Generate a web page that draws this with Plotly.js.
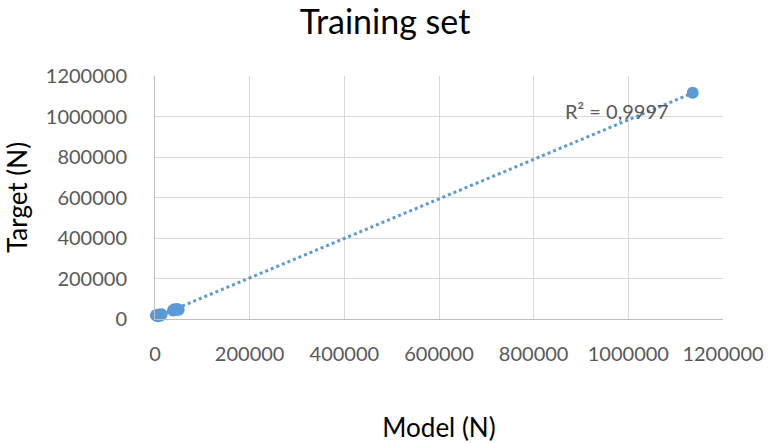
<!DOCTYPE html>
<html><head><meta charset="utf-8">
<script src="https://cdn.plot.ly/plotly-3.0.1.min.js"></script>
<style>html,body{margin:0;padding:0;background:#fff}#chart{width:770px;height:443px}</style>
</head><body><div id="chart"></div>
<script>
const modelN  = [-1000, 2000, 5000, 8000, 11000, 14000, 38000, 41000, 44000, 47000, 50000, 1136000];
const targetN = [12000, 18000, 14000, 22000, 16000, 24000, 42000, 48000, 44000, 50000, 46000, 1117000];
const xTicks = [0, 200000, 400000, 600000, 800000, 1000000, 1200000];
const yTicks = [0, 200000, 400000, 600000, 800000, 1000000, 1200000];
const r2Label = "R² = 0,9997";
const titleText = "Training set";
const xTitle = "Model (N)";
const yTitle = "Target (N)";

// least-squares linear trendline computed from the data
const n = modelN.length;
const mx = modelN.reduce((a,b)=>a+b,0)/n, my = targetN.reduce((a,b)=>a+b,0)/n;
let sxy=0, sxx=0;
for (let i=0;i<n;i++){ sxy+=(modelN[i]-mx)*(targetN[i]-my); sxx+=(modelN[i]-mx)**2; }
const slope = sxy/sxx, intercept = my - slope*mx;
const xmin = Math.min(...modelN), xmax = Math.max(...modelN);
const trendX = [xmin, xmax];
const trendY = trendX.map(v => intercept + slope*v);

const blue = '#5B9BD5';
const font = 'Lato, Carlito, Calibri, "Open Sans", sans-serif';
const data = [
  {x: trendX, y: trendY, mode: 'lines', line: {color: blue, width: 3, dash: 'dot'}, hoverinfo: 'skip', showlegend: false, cliponaxis: false},
  {x: modelN, y: targetN, mode: 'markers', marker: {color: blue, size: 12}, showlegend: false, cliponaxis: false}
];
const layout = {
  width: 770, height: 443,
  margin: {l: 155, r: 47, t: 76, b: 124},
  paper_bgcolor: '#fff', plot_bgcolor: '#fff',
  font: {family: font, color: '#595959', size: 20},
  title: {text: titleText, font: {family: font, size: 34, color: '#000'}, x: 0.5, xanchor: 'center', y: 0.95, yanchor: 'middle'},
  xaxis: {
    range: [0, 1200000], tickvals: xTicks, ticktext: xTicks.map(String),
    showgrid: true, gridcolor: '#d9d9d9', gridwidth: 1,
    zeroline: false, showline: true, linecolor: '#bfbfbf', linewidth: 1,
    ticks: '', ticklabelstandoff: 17, automargin: false,
    tickfont: {family: font, size: 20, color: '#595959'},
    title: {text: xTitle, font: {family: font, size: 26, color: '#000'}, standoff: 56}
  },
  yaxis: {
    range: [0, 1200000], tickvals: yTicks, ticktext: yTicks.map(String),
    showgrid: true, gridcolor: '#d9d9d9', gridwidth: 1,
    zeroline: false, showline: true, linecolor: '#bfbfbf', linewidth: 1,
    ticks: '', ticklabelstandoff: 23, automargin: false,
    tickfont: {family: font, size: 20, color: '#595959'},
    title: {text: yTitle, font: {family: font, size: 26, color: '#000'}, standoff: 10}
  },
  annotations: [{
    text: r2Label, x: 975000, y: 1025000, xref: 'x', yref: 'y', showarrow: false,
    font: {family: font, size: 20, color: '#595959'}, xanchor: 'center', yanchor: 'middle'
  }]
};
Plotly.newPlot('chart', data, layout, {displayModeBar: false, staticPlot: true});
</script></body></html>
